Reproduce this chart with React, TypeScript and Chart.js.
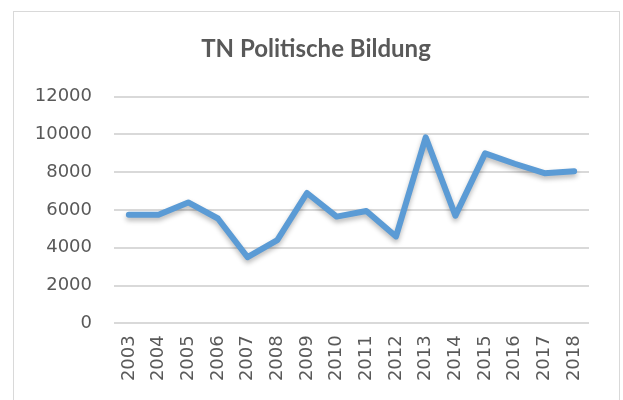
import React, { useEffect, useRef } from "react";
import { Chart, registerables } from "chart.js";

Chart.register(...registerables);

const years = ["2003","2004","2005","2006","2007","2008","2009","2010","2011","2012","2013","2014","2015","2016","2017","2018"];
const participants = [5750, 5750, 6400, 5550, 3500, 4400, 6900, 5650, 5950, 4600, 9850, 5700, 9000, 8450, 7950, 8050];
const yTicks = [0, 2000, 4000, 6000, 8000, 10000, 12000];
const chartTitle = "TN Politische Bildung";

const shadowPlugin = {
  id: "lineShadow",
  beforeDatasetDraw(chart: any) {
    const ctx = chart.ctx;
    ctx.save();
    ctx.shadowColor = "rgba(0,0,0,0.28)";
    ctx.shadowBlur = 5;
    ctx.shadowOffsetX = 0;
    ctx.shadowOffsetY = 3;
  },
  afterDatasetDraw(chart: any) {
    chart.ctx.restore();
  },
};

const titlePlugin = {
  id: "fixedTitle",
  afterDraw(chart: any) {
    const ctx = chart.ctx;
    ctx.save();
    ctx.fillStyle = "#595959";
    ctx.font = "bold 24px Lato";
    ctx.textAlign = "center";
    ctx.textBaseline = "alphabetic";
    ctx.fillText(chartTitle, 316, 57);
    ctx.restore();
  },
};

export default function App() {
  const ref = useRef<HTMLCanvasElement>(null);
  useEffect(() => {
    if (!ref.current) return;
    const chart = new Chart(ref.current, {
      type: "line",
      data: {
        labels: years,
        datasets: [
          {
            label: chartTitle,
            data: participants,
            borderColor: "#5B9BD5",
            backgroundColor: "#5B9BD5",
            borderWidth: 6,
            pointRadius: 0,
            tension: 0,
            borderJoinStyle: "round",
            borderCapStyle: "round",
            fill: false,
          },
        ],
      },
      options: {
        responsive: false,
        animation: false,
        devicePixelRatio: 1,
        layout: { padding: { left: 0, right: 34, top: 96.7, bottom: 0 } },
        plugins: {
          legend: { display: false },
          tooltip: { enabled: false },
          title: { display: false },
        },
        scales: {
          x: {
            offset: true,
            grid: { display: false, drawTicks: false },
            border: { display: false },
            ticks: {
              color: "#595959",
              font: { family: "DejaVu Sans", size: 18 },
              maxRotation: 90,
              minRotation: 90,
              padding: 12,
              autoSkip: false,
            },
            afterFit(scale: any) {
              scale.height = 400 - 323.3;
            },
          },
          y: {
            min: 0,
            max: 12000,
            afterBuildTicks(scale: any) {
              scale.ticks = yTicks.map((v) => ({ value: v }));
            },
            grid: { color: "#d9d9d9", lineWidth: 2, drawTicks: false },
            border: { display: false },
            ticks: {
              color: "#595959",
              font: { family: "DejaVu Sans", size: 18 },
              padding: 22,
              callback: (v: any) => String(v),
            },
            afterFit(scale: any) {
              scale.width = 114;
            },
          },
        },
      },
      plugins: [shadowPlugin, titlePlugin],
    } as any);
    return () => chart.destroy();
  }, []);

  return (
    <div
      style={{
        position: "fixed",
        left: 0,
        top: 0,
        width: 623,
        height: 400,
        overflow: "hidden",
        background: "#ffffff",
      }}
    >
      <div
        style={{
          position: "absolute",
          left: 13,
          top: 11,
          width: 607,
          height: 420,
          boxSizing: "border-box",
          border: "1px solid #d9d9d9",
        }}
      />
      <canvas
        ref={ref}
        width={623}
        height={400}
        style={{ position: "absolute", left: 0, top: 0, width: 623, height: 400 }}
      />
    </div>
  );
}
